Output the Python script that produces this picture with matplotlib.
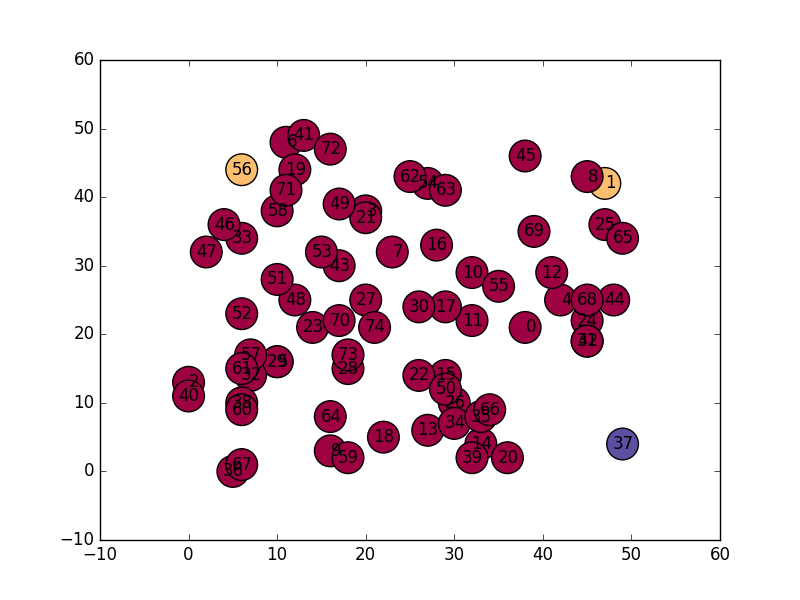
import matplotlib
matplotlib.use("Agg")
import matplotlib.pyplot as plt
import numpy as np

plt.style.use("classic")

# point coordinates, indexed by label 0..74
xs = [38, 47, 0, 20, 42, 10, 11, 23, 45, 16,
      32, 32, 41, 27, 33, 29, 28, 29, 22, 12,
      36, 20, 26, 14, 45, 47, 30, 20, 18, 10,
      26, 45, 7, 6, 30, 33, 5, 49, 6, 32,
      0, 13, 45, 17, 48, 38, 4, 2, 12, 17,
      29, 10, 6, 15, 27, 35, 6, 7, 10, 18,
      6, 6, 25, 29, 16, 49, 34, 6, 45, 39,
      17, 11, 16, 18, 21]
ys = [21, 42, 13, 38, 25, 16, 48, 32, 43, 3,
      29, 22, 29, 6, 4, 14, 33, 24, 5, 44,
      2, 37, 14, 21, 22, 36, 10, 25, 15, 16,
      24, 19, 14, 34, 7, 8, 0, 4, 10, 2,
      11, 49, 19, 30, 25, 46, 36, 32, 25, 39,
      12, 28, 23, 32, 42, 27, 44, 17, 38, 2,
      9, 15, 43, 41, 8, 34, 9, 1, 25, 35,
      22, 41, 47, 17, 21]
# cluster id of every point
groups = [0, 1, 0, 0, 0, 0, 0, 0, 0, 0,
          0, 0, 0, 0, 0, 0, 0, 0, 0, 0,
          0, 0, 0, 0, 0, 0, 0, 0, 0, 0,
          0, 0, 0, 0, 0, 0, 0, 3, 0, 0,
          0, 0, 0, 0, 0, 0, 0, 0, 0, 0,
          0, 0, 0, 0, 0, 0, 1, 0, 0, 0,
          0, 0, 0, 0, 0, 0, 0, 0, 0, 0,
          0, 0, 0, 0, 0]

fig = plt.figure(figsize=(8, 6), dpi=100)
ax = fig.add_subplot(111)

ax.scatter(xs, ys, s=520, c=groups, cmap="Spectral", vmin=0, vmax=3,
           edgecolors="k", linewidths=1)

# labels sit on top of every circle, right-aligned so two digits look centred
for i, (x, y) in enumerate(zip(xs, ys)):
    ax.annotate(str(i), (x, y), xytext=(8, 0), textcoords="offset points",
                ha="right", va="center", fontsize=12)

ax.set_xlim(-10, 60)
ax.set_ylim(-10, 60)

fig.savefig("out.png", dpi=100)
